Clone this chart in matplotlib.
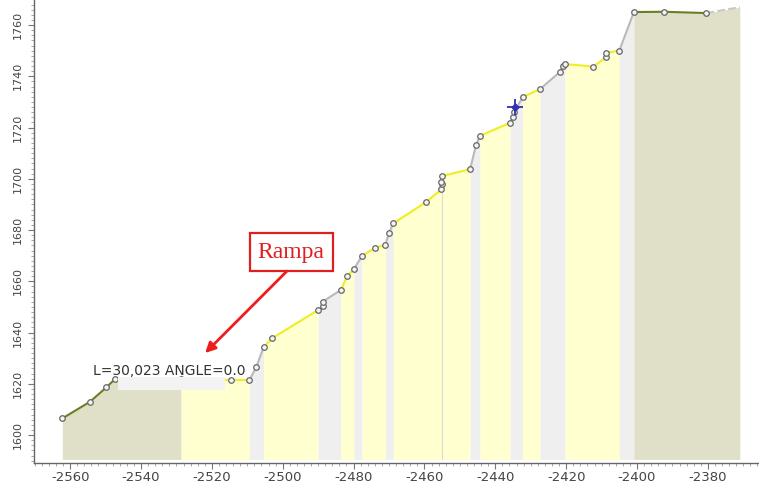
import matplotlib
matplotlib.use("Agg")
import matplotlib.pyplot as plt
from matplotlib.ticker import MultipleLocator
from matplotlib.patches import Rectangle

plt.rcParams['axes.unicode_minus'] = False

# ---------------- profil : abscisse / cote des points levés ----------------
dist = [-2562.2, -2554.4, -2549.8, -2547.3, -2528.7, -2514.6, -2509.4, -2507.5,
        -2505.4, -2503.1, -2490.0, -2488.7, -2488.7, -2483.6, -2481.8, -2479.9,
        -2477.6, -2473.9, -2471.0, -2470.0, -2468.8, -2459.7, -2455.2, -2455.0,
        -2455.2, -2455.0, -2447.1, -2445.4, -2444.3, -2435.8, -2435.1, -2434.7,
        -2432.3, -2427.4, -2421.7, -2421.0, -2420.3, -2412.3, -2408.8, -2408.8,
        -2405.0, -2400.9, -2392.4, -2380.4, -2371.0]
cota = [1606.5, 1613.0, 1618.6, 1621.9, 1621.7, 1621.5, 1621.5, 1626.4,
        1634.3, 1637.7, 1648.8, 1650.5, 1652.1, 1656.6, 1662.0, 1664.8,
        1670.0, 1673.1, 1674.3, 1679.0, 1682.6, 1690.8, 1695.9, 1697.8,
        1698.7, 1701.1, 1703.8, 1713.4, 1716.8, 1721.9, 1724.2, 1725.9,
        1731.9, 1735.0, 1741.8, 1744.0, 1744.8, 1743.8, 1747.4, 1749.2,
        1750.0, 1765.1, 1765.2, 1764.7, 1767.0]
# type de chaque tronçon (entre point i et i+1)
# P = plateforme, R = rampe, T = talus, F = fin
tramo = ['P', 'P', 'P', 'P', 'R', 'R', 'T', 'T', 'R', 'R', 'T', 'T', 'T', 'R',
         'R', 'T', 'R', 'R', 'T', 'T', 'R', 'R', 'R', 'R', 'R', 'R', 'T', 'T',
         'R', 'T', 'T', 'T', 'R', 'T', 'T', 'T', 'R', 'R', 'R', 'R', 'T', 'P',
         'P', 'F']
estrella = (-2434.4, 1728.1)
etiqueta = "L=30,023 ANGLE=0.0"
texto_flecha = "Rampa"
base = 1590.5

couleur_fond = {'P': '#e0e0c9', 'R': '#ffffcf', 'T': '#efeff0', 'F': '#e0e0c9'}
couleur_ligne = {'P': '#6e7d24', 'R': '#eeee22', 'T': '#b9b9b9', 'F': '#c8c8c8'}

fig = plt.figure(figsize=(7.59, 4.86), dpi=100)
ax = fig.add_axes([34 / 759, 23 / 486, 766 / 759, 473 / 486])

######################## remplissages (un polygone par zone) ########################
i = 0
while i < len(tramo):
    j = i
    fond = couleur_fond[tramo[i]]
    while j + 1 < len(tramo) and couleur_fond[tramo[j + 1]] == fond:
        j += 1
    xs = dist[i:j + 2]
    ys = cota[i:j + 2]
    ax.fill_between(xs, base, ys, color=fond, lw=0, zorder=1)
    i = j + 1

######################## tronçons ########################
for i, t in enumerate(tramo):
    xs = [dist[i], dist[i + 1]]
    ys = [cota[i], cota[i + 1]]
    ls = '--' if t == 'F' else '-'
    ax.plot(xs, ys, color=couleur_ligne[t], lw=1.5, ls=ls, zorder=3,
            solid_capstyle='round')

# trait vertical au droit du point -2455
ax.plot([dist[25], dist[25]], [base, cota[22]], color='#dcdcd0', lw=0.8, zorder=2)

ax.plot(dist[:-1], cota[:-1], ls='none', marker='o', ms=4.0, mfc='#f4f4f4',
        mec='#666666', mew=0.9, zorder=4)
# point courant : croix bleue
ax.plot([estrella[0]], [estrella[1]], ls='none', marker='+', ms=11, mew=1.3,
        color='#3030b0', zorder=5)
ax.plot([estrella[0]], [estrella[1]], ls='none', marker='D', ms=3.5,
        color='#3030b0', zorder=5)

######################## étiquette de la plateforme ########################
ax.add_patch(Rectangle((-2546.5, 1617.6), 30.2, 5.0, facecolor='#f3f3f3',
                       edgecolor='none', zorder=6))
ax.text(-2532.1, 1625.0, etiqueta, ha='center', va='center', fontsize=10,
        color='#333333', family='DejaVu Sans', zorder=7)

######################## annotation Rampa ########################
ax.text(-2497.6, 1671.4, texto_flecha, ha='center', va='center', fontsize=17,
        color='#e02020', family='Liberation Serif', zorder=8,
        bbox=dict(boxstyle='square,pad=0.35', fc='white', ec='#e02020', lw=1.6))
ax.annotate('', xy=(-2521.9, 1632.0), xytext=(-2498.8, 1664.0),
            arrowprops=dict(arrowstyle='-|>,head_length=0.6,head_width=0.3',
                            color='#ee1c1c', lw=2, shrinkA=0, shrinkB=0),
            zorder=8)

######################## axes ########################
ax.set_xlim(-2570.2, -2354.0)
ax.set_ylim(1589.1, 1773.7)
ax.xaxis.set_major_locator(MultipleLocator(20))
ax.xaxis.set_minor_locator(MultipleLocator(2))
ax.yaxis.set_major_locator(MultipleLocator(20))
ax.yaxis.set_minor_locator(MultipleLocator(2))
for s in ['top', 'right']:
    ax.spines[s].set_visible(False)
for s in ['left', 'bottom']:
    ax.spines[s].set_color('#666666')
    ax.spines[s].set_linewidth(1.0)
ax.tick_params(which='major', length=4, color='#777777', direction='out')
ax.tick_params(which='minor', length=2, color='#999999', direction='out')
ax.tick_params(axis='x', labelsize=9.5, labelcolor='#444444', pad=2)
ax.tick_params(axis='y', labelsize=8, labelcolor='#444444', pad=4)
for lab in ax.get_yticklabels():
    lab.set_rotation(90)
    lab.set_va('center')

fig.savefig('out.png', dpi=100)
plt.close()
